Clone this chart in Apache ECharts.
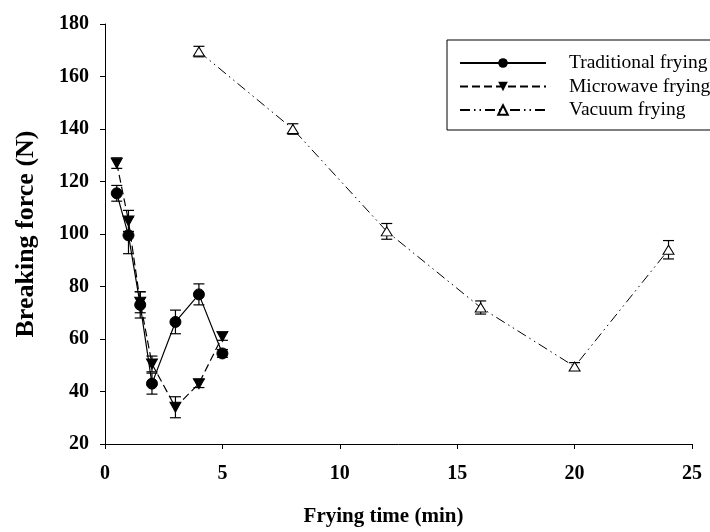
<!DOCTYPE html>
<html><head><meta charset="utf-8">
<script src="https://cdn.jsdelivr.net/npm/echarts@6/dist/echarts.min.js"></script>
<style>html,body{margin:0;padding:0;background:#fff}#c{width:710px;height:532px}</style>
</head><body><div id="c"></div>
<script>
var tradX = [0.5, 1, 1.5, 2, 3, 4, 5];
var tradY = [115.5, 99.5, 73, 43, 66.5, 77, 54.5];
var tradErr = [3, 7, 5, 4, 4.5, 4, 1.5];
var microX = [0.5, 1, 1.5, 2, 3, 4, 5];
var microY = [127, 105, 74, 50.5, 34, 43, 61];
var microErr = [2, 4, 4, 3, 4, 1.5, 1.5];
var vacX = [4, 8, 12, 16, 20, 24];
var vacY = [169.5, 140, 101, 72, 49.5, 94];
var vacErr = [2, 2, 3, 2.5, 1.5, 3.5];
var names = ['Traditional frying', 'Microwave frying', 'Vacuum frying'];

function pts(xs, ys) { return xs.map(function (x, i) { return [x, ys[i]]; }); }
function errs(xs, ys, es) { return xs.map(function (x, i) { return [x, ys[i] - es[i], ys[i] + es[i]]; }); }
function errSeries(data) {
  return {
    type: 'custom', silent: true, z: 1, legendHoverLink: false,
    data: data, encode: { x: 0, y: [1, 2] },
    renderItem: function (params, api) {
      var x = api.value(0);
      var top = api.coord([x, api.value(2)]);
      var bot = api.coord([x, api.value(1)]);
      var w = 5.5;
      var st = { stroke: '#000', lineWidth: 1.2 };
      return { type: 'group', children: [
        { type: 'line', shape: { x1: top[0], y1: top[1], x2: bot[0], y2: bot[1] }, style: st },
        { type: 'line', shape: { x1: top[0] - w, y1: top[1], x2: top[0] + w, y2: top[1] }, style: st },
        { type: 'line', shape: { x1: bot[0] - w, y1: bot[1], x2: bot[0] + w, y2: bot[1] }, style: st }
      ] };
    }
  };
}
var font = '"Liberation Serif", "Times New Roman", serif';
var chart = echarts.init(document.getElementById('c'));
chart.setOption({
  animation: false,
  backgroundColor: '#fff',
  grid: { left: 105, right: 18, top: 24, bottom: 88 },
  legend: {
    data: names,
    orient: 'vertical', left: 447, top: 40,
    itemWidth: 86, itemHeight: 12, itemGap: 3.5,
    padding: [13, 40, 10, 12],
    borderColor: '#000', borderWidth: 1,
    textStyle: { fontFamily: font, fontSize: 19.5, lineHeight: 20, color: '#000', padding: [0, 0, 0, 18] }
  },
  xAxis: {
    type: 'value', min: 0, max: 25, interval: 5,
    name: 'Frying time (min)', nameLocation: 'middle', nameGap: 62,
    nameTextStyle: { fontFamily: font, fontSize: 21, fontWeight: 'bold', color: '#000', padding: [0, 30, 0, 0] },
    axisLine: { lineStyle: { color: '#000', width: 1 } },
    axisTick: { inside: false, length: 5, lineStyle: { color: '#000' } },
    axisLabel: { fontFamily: font, fontSize: 20, fontWeight: 'bold', color: '#000', margin: 20 },
    splitLine: { show: false }
  },
  yAxis: {
    type: 'value', min: 20, max: 180, interval: 20,
    name: 'Breaking force (N)', nameLocation: 'middle', nameGap: 66, nameRotate: 90,
    nameTextStyle: { fontFamily: font, fontSize: 26, fontWeight: 'bold', color: '#000' },
    axisLine: { show: true, lineStyle: { color: '#000', width: 1 } },
    axisTick: { show: true, inside: false, length: 5, lineStyle: { color: '#000' } },
    axisLabel: { fontFamily: font, fontSize: 20, fontWeight: 'bold', color: '#000', margin: 16 },
    splitLine: { show: false }
  },
  series: [
    errSeries(errs(tradX, tradY, tradErr)),
    errSeries(errs(microX, microY, microErr)),
    errSeries(errs(vacX, vacY, vacErr)),
    {
      name: names[0], type: 'line', data: pts(tradX, tradY), z: 3,
      symbol: 'circle', symbolSize: 11, showAllSymbol: true,
      lineStyle: { color: '#000', width: 1.2, type: 'solid' },
      itemStyle: { color: '#000', borderColor: '#000' }
    },
    {
      name: names[1], type: 'line', data: pts(microX, microY), z: 3,
      symbol: 'path://M0,0 L10,0 L5,9 Z', symbolSize: [11, 10],
      lineStyle: { color: '#000', width: 1.2, type: [8, 4] },
      itemStyle: { color: '#000', borderColor: '#000' }
    },
    {
      name: names[2], type: 'line', data: pts(vacX, vacY), z: 3,
      symbol: 'triangle', symbolSize: [11, 9],
      lineStyle: { color: '#000', width: 1, type: [10, 4, 1.5, 4, 1.5, 4] },
      itemStyle: { color: '#fff', borderColor: '#000', borderWidth: 1 }
    }
  ]
});
</script></body></html>
